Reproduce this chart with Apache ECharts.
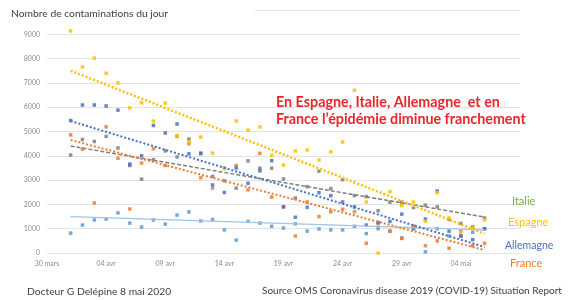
<!DOCTYPE html>
<html>
<head>
<meta charset="utf-8">
<script src="https://cdn.jsdelivr.net/npm/echarts@6/dist/echarts.min.js"></script>
<style>
  html, body { margin: 0; padding: 0; background: #fff; }
  #tu { width: 573px; height: 300px; }
</style>
</head>
<body>
<div id="tu"></div>
<script>
// jours depuis le 30 mars (jour 0)
var jours = [];
for (var d = 2; d <= 37; d++) jours.push(d);
var tickLabels = ['30 mars', '04 avr', '09 avr', '14 avr', '19 avr', '24 avr', '29 avr', '04 mai', ''];

// contaminations du jour, du 1 avril au 6 mai
var espagne = [9140, 7650, 8020, 7400, 7000, 5970, 6180, 5430, 6170, 4830, 4570, 4770,
  4110, 3470, 5430, 5060, 5190, 4020, 3620, 4200, 4240, 3830, 4160, 4570,
  6700, 2100, 0, 2530, 1950, 2100, 1310, 2480, 1440, 860, 1060, 1360];
var allemagne = [5450, 6090, 6090, 6050, 5880, 3660, 4000, 5250, 4940, 5310, 4080, 4110,
  2800, 2490, 3500, 2870, 3380, 3800, 1900, 1470, 1880, 2480, 2360, 2100,
  1900, 1150, 1260, 1300, 1600, 1000, 1400, 2550, 900, 700, 550, 1000];
var france = [4860, 4270, 2060, 5190, 3900, 1810, 3700, 4290, 3600, 4800, 4500, 3100,
  2670, 3500, 3600, 2600, 4100, 2300, 1900, 700, 2100, 1500, 1700, 1800,
  1700, 400, 1200, 900, 600, 1100, 300, 500, 200, 700, 300, 400];
var italie = [4030, 4670, 4590, 4800, 4320, 3600, 3040, 3840, 4200, 3950, 4690, 4090,
  3150, 2970, 2670, 3790, 3490, 3490, 3050, 2260, 2730, 3370, 2650, 3020,
  2360, 2320, 1740, 2090, 2090, 1870, 1970, 1900, 1390, 1220, 1080, 1440];
var autre = [820, 1150, 1360, 1400, 1650, 1230, 1070, 1360, 1190, 1560, 1690, 1320,
  1380, 950, 530, 1300, 1230, 1100, 1030, 1200, 900, 990, 950, 950,
  1100, 800, 1000, 900, 620, 1100, 50, 1000, 700, 900, 850, 1000];

// tendances (début, fin)
var joursTendance = [2, 37];
var tendEspagne = [7500, 800];
var tendAllemagne = [5430, 250];
var tendFrance = [4650, 120];
var tendItalie = [4400, 1480];
var tendAutre = [1500, 950];

function pts(vals, xs) {
  return vals.map(function (v, i) { return [(xs || jours)[i], v]; });
}

var myChart = echarts.init(document.getElementById('tu'));

function nuage(name, vals, color) {
  return { name: name, type: 'scatter', data: pts(vals), symbol: 'rect', symbolSize: 3.5,
    itemStyle: { color: color, opacity: 0.85 }, z: 3 };
}
function tendance(name, vals, color, width, dash) {
  return { name: name, type: 'line', data: pts(vals, joursTendance), symbol: 'none',
    lineStyle: { color: color, width: width, type: dash }, z: 4 };
}

var font = 'Lato, "Open Sans", sans-serif';

var option = {
  animation: false,
  backgroundColor: '#fff',
  grid: { left: 47, right: 53, top: 10, bottom: 47 },
  xAxis: {
    type: 'value', min: 0, max: 40, interval: 5,
    axisLine: { show: false }, axisTick: { show: false }, splitLine: { show: false },
    axisLabel: { fontSize: 7, color: '#8c8c8c', fontFamily: font, margin: 7,
      formatter: function (v) { return tickLabels[v / 5]; } }
  },
  yAxis: {
    type: 'value', min: 0, max: 10000, interval: 1000,
    axisLine: { show: false }, axisTick: { show: false },
    splitLine: { lineStyle: { color: '#e3e3e3', width: 1 } },
    axisLabel: { fontSize: 7, color: '#8c8c8c', fontFamily: font, margin: 7,
      formatter: function (v) { return v >= 10000 ? '' : v; } }
  },
  series: [
    nuage('autre', autre, '#5B9BD5'),
    nuage('Italie', italie, '#7f7f7f'),
    nuage('France', france, '#ED7D31'),
    nuage('Allemagne', allemagne, '#4472C4'),
    nuage('Espagne', espagne, '#FFC000'),
    tendance('t-autre', tendAutre, '#9DC3E6', 1.2, 'solid'),
    tendance('t-Italie', tendItalie, '#7f7f7f', 1.5, [4, 2]),
    tendance('t-France', tendFrance, '#ED7D31', 2, [2, 2]),
    tendance('t-Allemagne', tendAllemagne, '#4472C4', 2, [2, 2]),
    tendance('t-Espagne', tendEspagne, '#FFC000', 2.5, [2, 2])
  ],
  graphic: [
    { type: 'rect', left: 0, top: 0, z: 10, shape: { width: 255, height: 24 }, style: { fill: '#fff' } },
    { type: 'text', left: 11, top: 9, z: 11,
      style: { text: 'Nombre de contaminations du jour', fontSize: 10.3, fill: '#404040', fontFamily: font } },
    { type: 'text', left: 276, top: 94, z: 11,
      style: { text: 'En Espagne, Italie, Allemagne  et en\nFrance l\u2019\u00e9pid\u00e9mie diminue franchement',
        fontSize: 14.3, fontWeight: 'bold', lineHeight: 17, fill: '#E8262B', fontFamily: font } },
    { type: 'text', left: 512, top: 196, z: 11, style: { text: 'Italie', fontSize: 11, fill: '#70AD47', fontFamily: font } },
    { type: 'text', left: 508, top: 217, z: 11, style: { text: 'Espagne', fontSize: 11, fill: '#FFC000', fontFamily: font } },
    { type: 'text', left: 505, top: 240, z: 11, style: { text: 'Allemagne', fontSize: 10.5, fill: '#4472C4', fontFamily: font } },
    { type: 'text', left: 510, top: 258, z: 11, style: { text: 'France', fontSize: 11, fill: '#ED7D31', fontFamily: font } },
    { type: 'text', left: 27, top: 287, z: 11,
      style: { text: 'Docteur G Del\u00e9pine 8 mai 2020', fontSize: 10.3, fill: '#404040', fontFamily: font } },
    { type: 'text', left: 262, top: 286, z: 11,
      style: { text: 'Source OMS Coronavirus disease 2019 (COVID-19) Situation Report', fontSize: 10, fill: '#404040', fontFamily: font } }
  ]
};

myChart.setOption(option);
</script>
</body>
</html>
